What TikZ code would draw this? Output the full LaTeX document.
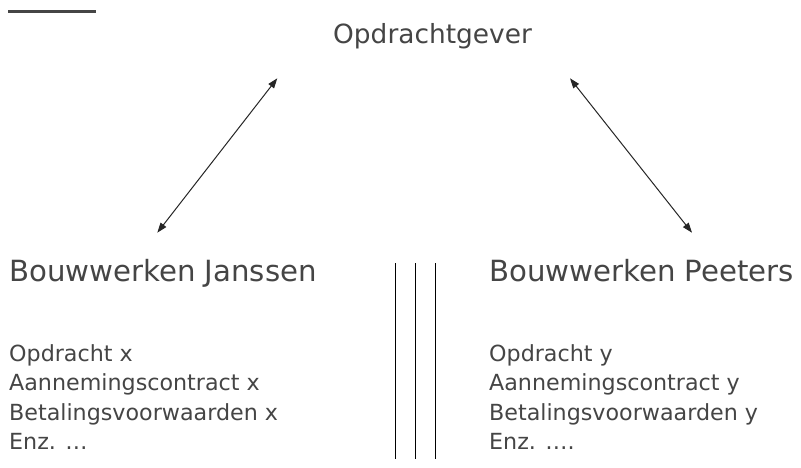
\documentclass[tikz,border=0pt]{standalone}
\usepackage{fontspec}
\setmainfont{DejaVu Sans}
\usetikzlibrary{arrows.meta}
\definecolor{txtgray}{HTML}{454545}
\definecolor{arrowgray}{HTML}{262626}
\begin{document}
\begin{tikzpicture}[x=1pt,y=-1pt,
  txt/.style={anchor=base west,inner sep=0pt,text=txtgray},
  bigtxt/.style={txt,font=\fontsize{29.2}{32}\selectfont},
  midtxt/.style={txt,font=\fontsize{26.4}{30}\selectfont},
  listtxt/.style={txt,font=\fontsize{22.2}{30}\selectfont},
  link/.style={draw=arrowgray,line width=1pt,{Triangle[length=10pt,width=7pt]}-{Triangle[length=10pt,width=7pt]}},
  sep/.style={draw=black,line width=1pt}]
\useasboundingbox (0,0) rectangle (801,467);
\fill[white] (0,0) rectangle (801,467);
% top-left rule
\coordinate (r1) at (8,11.3);
\coordinate (r2) at (96,11.3);
\draw[txtgray,line width=2.7pt] (r1) -- (r2);
% titles
\node[midtxt] (og) at (333,43) {Opdrachtgever};
\node[bigtxt] (bj) at (9,281) {Bouwwerken Janssen};
\node[bigtxt] (bp) at (489,281) {Bouwwerken Peeters};
% lists
\node[listtxt] (lj1) at (9,361) {Opdracht x};
\node[listtxt] (lj2) at (9,390.5) {Aannemingscontract x};
\node[listtxt] (lj3) at (9,420) {Betalingsvoorwaarden x};
\node[listtxt] (lj4) at (9,449.5) {Enz. …};
\node[listtxt] (lp1) at (489,361) {Opdracht y};
\node[listtxt] (lp2) at (489,390.5) {Aannemingscontract y};
\node[listtxt] (lp3) at (489,420) {Betalingsvoorwaarden y};
\node[listtxt] (lp4) at (489,449.5) {Enz. ….};
% arrows
\coordinate (aL1) at (157.3,232.7);
\coordinate (aL2) at (277.3,78.3);
\coordinate (aR1) at (570,78.3);
\coordinate (aR2) at (692,232.7);
\draw[link] (aL1) -- (aL2);
\draw[link] (aR1) -- (aR2);
% separator lines
\coordinate (v1a) at (395.3,263);
\coordinate (v1b) at (395.3,459);
\coordinate (v2a) at (415.7,263);
\coordinate (v2b) at (415.7,459);
\coordinate (v3a) at (435.3,263);
\coordinate (v3b) at (435.3,459);
\draw[sep] (v1a) -- (v1b);
\draw[sep] (v2a) -- (v2b);
\draw[sep] (v3a) -- (v3b);
\end{tikzpicture}
\end{document}
